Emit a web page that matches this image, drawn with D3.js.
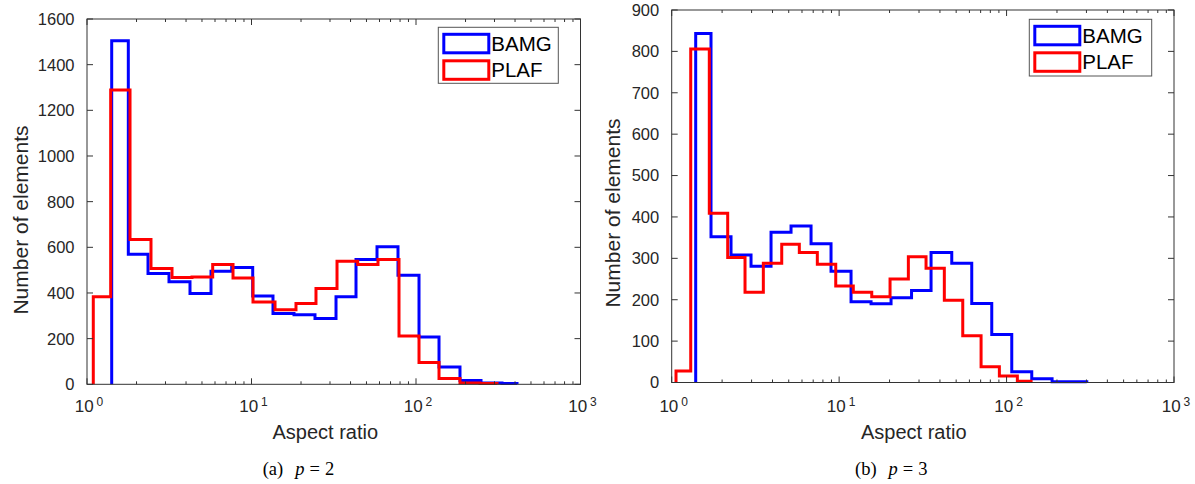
<!DOCTYPE html>
<html>
<head>
<meta charset="utf-8">
<script src="https://cdn.jsdelivr.net/npm/d3@7"></script>
<style>
  html, body { margin: 0; padding: 0; background: #fff; }
  svg { display: block; }
  .tick-label { font-family: "Liberation Sans", Arial, sans-serif; fill: #262626; }
</style>
</head>
<body>
<svg id="chart" width="1195" height="484"></svg>
<script>
// ---------------- data ----------------
const seriesNames = ["BAMG", "PLAF"];
const seriesColors = ["#0000ff", "#ff0000"];
const xTickExponents = [0, 1, 2, 3];
const yTicksP2 = [0, 200, 400, 600, 800, 1000, 1200, 1400, 1600];
const yTicksP3 = [0, 100, 200, 300, 400, 500, 600, 700, 800, 900];

// (a) p = 2 : bin edges (aspect ratio) and counts
const p2BamgEdges = [1.413, 1.783, 2.349, 3.151, 4.228, 5.674, 7.58, 10.17, 13.51, 18.13, 24.32,
                     32.64, 43.18, 57.94, 77.73, 104.3, 138.0, 185.1, 248.4, 333.3, 411.2];
const p2BamgCounts = [1505, 570, 485, 449, 398, 495, 512, 387, 310, 305,
                      288, 383, 547, 602, 478, 207, 76, 17, 6, 3];
const p2PlafEdges = [1.092, 1.393, 1.826, 2.449, 3.287, 4.347, 5.809, 7.72, 10.21, 13.90, 18.64,
                     24.66, 33.10, 44.22, 58.75, 78.83, 104.3, 138.0, 185.1, 244.9, 310.8];
const p2PlafCounts = [383, 1289, 634, 507, 468, 470, 525, 466, 361, 327,
                      354, 420, 539, 525, 547, 212, 95, 25, 6, 3];

// (b) p = 3
const p3BamgEdges = [1.391, 1.717, 2.261, 2.977, 3.920, 5.161, 6.796, 8.945, 11.78, 15.51, 20.42,
                     27.07, 35.40, 47.06, 61.95, 81.57, 107.4, 141.4, 187.0, 246.3, 301.4];
const p3BamgCounts = [843, 352, 308, 281, 363, 378, 335, 269, 195, 190,
                      205, 222, 314, 288, 191, 116, 26, 9, 2, 2];
const p3PlafEdges = [1.061, 1.299, 1.677, 2.160, 2.741, 3.526, 4.541, 5.784, 7.409, 9.544, 12.15,
                     15.66, 20.14, 25.91, 33.04, 42.49, 54.74, 70.43, 90.58, 116.0, 140.1];
const p3PlafCounts = [28, 806, 409, 302, 218, 288, 334, 314, 286, 233,
                      218, 207, 250, 304, 276, 199, 113, 38, 16, 3];

// ---------------- drawing ----------------
const svg = d3.select("#chart");
const axisColor = "#333333";

function drawPanel(cfg) {
  const g = svg.append("g");
  const x = d3.scaleLog().domain([1, 1000]).range([cfg.left, cfg.right]);
  const y = d3.scaleLinear().domain([0, cfg.yMax]).range([cfg.bottom, cfg.top]);

  // histogram stairs
  const line = d3.line().x(d => x(d[0])).y(d => y(d[1]));
  cfg.series.forEach((s, i) => {
    const pts = [[s.edges[0], 0]];
    s.counts.forEach((c, k) => {
      pts.push([s.edges[k], c]);
      pts.push([s.edges[k + 1], c]);
    });
    pts.push([s.edges[s.edges.length - 1], 0]);
    g.append("path")
      .attr("d", line(pts))
      .attr("fill", "none")
      .attr("stroke", seriesColors[i])
      .attr("stroke-width", 3)
      .attr("stroke-linejoin", "miter");
  });

  // box
  g.append("rect")
    .attr("x", cfg.left).attr("y", cfg.top)
    .attr("width", cfg.right - cfg.left).attr("height", cfg.bottom - cfg.top)
    .attr("fill", "none").attr("stroke", axisColor).attr("stroke-width", 1);

  // x ticks (major + minor) on bottom and top, inward
  const minor = [];
  for (let e = 0; e < 3; e++) for (let m = 2; m <= 9; m++) minor.push(m * Math.pow(10, e));
  minor.forEach(v => {
    g.append("line").attr("x1", x(v)).attr("x2", x(v)).attr("y1", cfg.bottom).attr("y2", cfg.bottom - 3)
      .attr("stroke", axisColor);
    g.append("line").attr("x1", x(v)).attr("x2", x(v)).attr("y1", cfg.top).attr("y2", cfg.top + 3)
      .attr("stroke", axisColor);
  });
  xTickExponents.forEach(e => {
    const v = Math.pow(10, e);
    g.append("line").attr("x1", x(v)).attr("x2", x(v)).attr("y1", cfg.bottom).attr("y2", cfg.bottom - 6)
      .attr("stroke", axisColor);
    g.append("line").attr("x1", x(v)).attr("x2", x(v)).attr("y1", cfg.top).attr("y2", cfg.top + 6)
      .attr("stroke", axisColor);
    const t = g.append("text").attr("class", "tick-label")
      .attr("x", x(v) + 2).attr("y", 411.7).attr("text-anchor", "middle")
      .style("font-size", "17px");
    t.append("tspan").text("10");
    t.append("tspan").attr("dx", 3).attr("dy", -6).style("font-size", "12px").text(String(e));
  });

  // y ticks left and right, inward
  cfg.yTicks.forEach(v => {
    g.append("line").attr("x1", cfg.left).attr("x2", cfg.left + 6).attr("y1", y(v)).attr("y2", y(v))
      .attr("stroke", axisColor);
    g.append("line").attr("x1", cfg.right).attr("x2", cfg.right - 6).attr("y1", y(v)).attr("y2", y(v))
      .attr("stroke", axisColor);
    g.append("text").attr("class", "tick-label")
      .attr("x", cfg.left - 12.5).attr("y", y(v)).attr("dy", "0.36em")
      .attr("text-anchor", "end").style("font-size", "16.5px").text(v);
  });

  // axis labels
  g.append("text").attr("class", "tick-label")
    .attr("x", cfg.xLabelX).attr("y", 439).attr("text-anchor", "middle")
    .style("font-size", "20px").text("Aspect ratio");
  g.append("text").attr("class", "tick-label")
    .attr("transform", `translate(${cfg.yLabelX},${cfg.yLabelY}) rotate(-90)`)
    .attr("text-anchor", "middle")
    .style("font-size", "21px").text("Number of elements");

  // legend
  const L = cfg.legend;
  g.append("rect").attr("x", L.x).attr("y", L.y).attr("width", L.w).attr("height", L.h)
    .attr("fill", "#fff").attr("stroke", "#555").attr("stroke-width", 1);
  seriesNames.forEach((name, i) => {
    const ry = L.y + 7 + i * 26.5;
    g.append("rect").attr("x", L.x + 5.5).attr("y", ry)
      .attr("width", 45).attr("height", 18.5)
      .attr("fill", "none").attr("stroke", seriesColors[i]).attr("stroke-width", 3);
    g.append("text").attr("x", L.x + 53).attr("y", ry + 16.5)
      .style("font-family", "Liberation Sans, Arial, sans-serif").style("font-size", "20.5px")
      .attr("fill", "#000").text(name);
  });

  // caption
  const cap = svg.append("text").attr("x", cfg.capX).attr("y", 475)
    .style("font-family", "Liberation Serif, Times New Roman, serif").style("font-size", "18.5px")
    .attr("fill", "#000");
  cap.append("tspan").text(cfg.capLetter);
  cap.append("tspan").attr("dx", 12).style("font-style", "italic").text("p");
  cap.append("tspan").attr("dx", 5).text("=");
  cap.append("tspan").attr("dx", 5).text(cfg.capValue);
}

drawPanel({
  left: 87, right: 580.5, top: 19, bottom: 384.3, yMax: 1600, yTicks: yTicksP2,
  series: [{ edges: p2BamgEdges, counts: p2BamgCounts }, { edges: p2PlafEdges, counts: p2PlafCounts }],
  xLabelX: 325.3, yLabelX: 28.3, yLabelY: 220,
  legend: { x: 438.3, y: 27.3, w: 120, h: 56 },
  capX: 262.7, capLetter: "(a)", capValue: "2"
});

drawPanel({
  left: 671.7, right: 1174, top: 10, bottom: 382.5, yMax: 900, yTicks: yTicksP3,
  series: [{ edges: p3BamgEdges, counts: p3BamgCounts }, { edges: p3PlafEdges, counts: p3PlafCounts }],
  xLabelX: 913.8, yLabelX: 620, yLabelY: 213,
  legend: { x: 1029.3, y: 19.3, w: 122.4, h: 56.7 },
  capX: 855, capLetter: "(b)", capValue: "3"
});
</script>
</body>
</html>
